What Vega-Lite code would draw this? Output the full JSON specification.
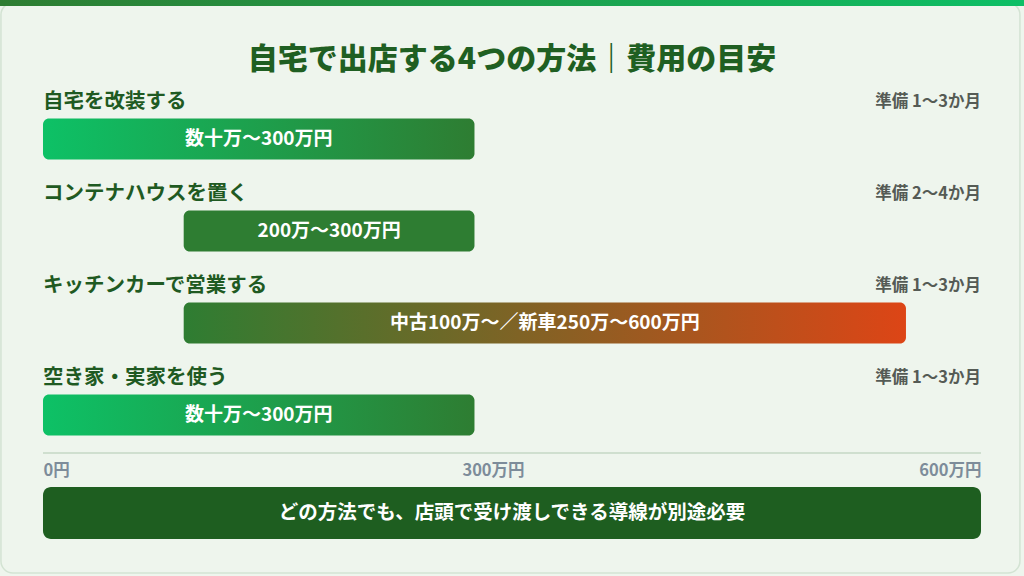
{
  "$schema": "https://vega.github.io/schema/vega-lite/v6.json",
  "width": 1024,
  "height": 576,
  "autosize": "none",
  "padding": 0,
  "background": "#eef5ed",
  "config": {"view": {"stroke": null}, "font": "Noto Sans CJK JP"},
  "datasets": {
    "methods": [
      {"row": 1, "method": "自宅を改装する", "start": 0, "end": 276, "cost": "数十万〜300万円", "prep": "準備 1〜3か月", "style": "green"},
      {"row": 2, "method": "コンテナハウスを置く", "start": 90, "end": 276, "cost": "200万〜300万円", "prep": "準備 2〜4か月", "style": "solid"},
      {"row": 3, "method": "キッチンカーで営業する", "start": 90, "end": 552, "cost": "中古100万〜／新車250万〜600万円", "prep": "準備 1〜3か月", "style": "orange"},
      {"row": 4, "method": "空き家・実家を使う", "start": 0, "end": 276, "cost": "数十万〜300万円", "prep": "準備 1〜3か月", "style": "green"}
    ],
    "note": [{"text": "どの方法でも、店頭で受け渡しできる導線が別途必要"}],
    "heading": [{"text": "自宅で出店する4つの方法｜費用の目安"}]
  },
  "data": {"name": "methods"},
  "encoding": {
    "x": {"type": "quantitative", "scale": {"domain": [-27.5, 627.5], "nice": false, "zero": false, "padding": 0}},
    "y": {"type": "quantitative", "scale": {"domain": [-0.511, 5.75], "nice": false, "zero": false, "reverse": true, "padding": 0}, "axis": null}
  },
  "layer": [
    {
      "data": {"name": "heading"},
      "mark": {"type": "rect", "fill": null, "stroke": "#d3e3d3", "strokeWidth": 1.5, "cornerRadius": 12},
      "encoding": {
        "x": {"datum": -26.9, "type": "quantitative"},
        "x2": {"datum": 624.9},
        "y": {"datum": -0.48, "type": "quantitative"},
        "y2": {"datum": 5.717}
      }
    },
    {
      "data": {"name": "heading"},
      "mark": {"type": "rect", "color": {"gradient": "linear", "x1": 0, "x2": 1, "y1": 0, "y2": 0, "stops": [{"offset": 0, "color": "#2e7d32"}, {"offset": 1, "color": "#0dbf66"}]}},
      "encoding": {
        "x": {"datum": -27.5, "type": "quantitative"},
        "x2": {"datum": 627.5},
        "y": {"datum": -0.511, "type": "quantitative"},
        "y2": {"datum": -0.446}
      }
    },
    {
      "data": {"name": "heading"},
      "mark": {"type": "text", "fontSize": 30, "fontWeight": 900, "color": "#1f5f22", "align": "center", "baseline": "middle"},
      "encoding": {
        "x": {"datum": 300, "type": "quantitative"},
        "y": {"datum": 0.141, "type": "quantitative"},
        "text": {"field": "text"}
      }
    },
    {
      "mark": {"type": "text", "fontSize": 20.5, "fontWeight": "bold", "color": "#1f5a22", "align": "left", "baseline": "middle", "yOffset": -37},
      "encoding": {
        "x": {"datum": 0, "type": "quantitative", "axis": {"values": [0, 300, 600], "labelExpr": "datum.value == 0 ? '0円' : datum.value + '万円'", "domain": false, "ticks": false, "grid": false, "title": null, "offset": -123, "labelPadding": 9, "labelFontSize": 16.5, "labelFontWeight": "bold", "labelColor": "#7d8c9a", "labelFlush": 50, "labelOffset": {"expr": "datum.value == 300 ? -19 : 0"}}},
        "y": {"field": "row"},
        "text": {"field": "method"}
      }
    },
    {
      "mark": {"type": "text", "fontSize": 16.5, "fontWeight": "bold", "color": "#555b55", "align": "right", "baseline": "middle", "yOffset": -37},
      "encoding": {
        "x": {"datum": 600, "type": "quantitative"},
        "y": {"field": "row"},
        "text": {"field": "prep"}
      }
    },
    {
      "transform": [{"filter": "datum.style == 'green'"}],
      "mark": {"type": "bar", "size": 41, "cornerRadius": 6, "color": {"gradient": "linear", "x1": 0, "x2": 1, "y1": 0, "y2": 0, "stops": [{"offset": 0, "color": "#0dc166"}, {"offset": 1, "color": "#2e7d32"}]}},
      "encoding": {"x": {"field": "start"}, "x2": {"field": "end"}, "y": {"field": "row"}}
    },
    {
      "transform": [{"filter": "datum.style == 'solid'"}],
      "mark": {"type": "bar", "size": 41, "cornerRadius": 6, "color": "#2e7d32"},
      "encoding": {"x": {"field": "start"}, "x2": {"field": "end"}, "y": {"field": "row"}}
    },
    {
      "transform": [{"filter": "datum.style == 'orange'"}],
      "mark": {"type": "bar", "size": 41, "cornerRadius": 6, "color": {"gradient": "linear", "x1": 0, "x2": 1, "y1": 0, "y2": 0, "stops": [{"offset": 0, "color": "#2e7d32"}, {"offset": 1, "color": "#dd4516"}]}},
      "encoding": {"x": {"field": "start"}, "x2": {"field": "end"}, "y": {"field": "row"}}
    },
    {
      "transform": [{"calculate": "(datum.start + datum.end) / 2", "as": "mid"}],
      "mark": {"type": "text", "fontSize": 19, "fontWeight": "bold", "color": "white", "align": "center", "baseline": "middle"},
      "encoding": {"x": {"field": "mid"}, "y": {"field": "row"}, "text": {"field": "cost"}}
    },
    {
      "data": {"name": "note"},
      "mark": {"type": "rule", "color": "#cfdfcf", "strokeWidth": 2},
      "encoding": {
        "x": {"datum": 0, "type": "quantitative"},
        "x2": {"datum": 600},
        "y": {"datum": 4.413, "type": "quantitative"}
      }
    },
    {
      "data": {"name": "note"},
      "mark": {"type": "bar", "size": 52, "cornerRadius": 8, "color": "#1e5e20"},
      "encoding": {
        "x": {"datum": 0, "type": "quantitative"},
        "x2": {"datum": 600},
        "y": {"datum": 5.065, "type": "quantitative"}
      }
    },
    {
      "data": {"name": "note"},
      "mark": {"type": "text", "fontSize": 19.5, "fontWeight": "bold", "color": "white", "align": "center", "baseline": "middle"},
      "encoding": {
        "x": {"datum": 300, "type": "quantitative"},
        "y": {"datum": 5.065, "type": "quantitative"},
        "text": {"field": "text"}
      }
    }
  ]
}
